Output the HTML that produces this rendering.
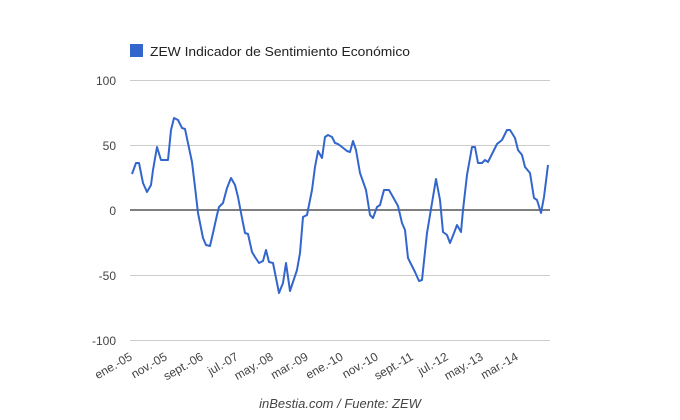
<!DOCTYPE html>
<html><head><meta charset="utf-8"><style>
body{margin:0;background:#fff;}
svg{display:block;font-family:"Liberation Sans",Arial,sans-serif;}
</style></head><body>
<svg width="680" height="420" viewBox="0 0 680 420">
<rect x="130" y="44" width="13" height="13" fill="#3366cc"/>
<text x="150" y="56" font-size="13" fill="#222" textLength="260" lengthAdjust="spacingAndGlyphs">ZEW Indicador de Sentimiento Económico</text>
<g stroke="#cccccc" stroke-width="1">
<line x1="130" y1="80.5" x2="550" y2="80.5"/>
<line x1="130" y1="145.5" x2="550" y2="145.5"/>
<line x1="130" y1="275.5" x2="550" y2="275.5"/>
<line x1="130" y1="340.5" x2="550" y2="340.5"/>
</g>
<line x1="130" y1="210" x2="550" y2="210" stroke="#333" stroke-width="1.3"/>
<g font-size="12" fill="#444" text-anchor="end">
<text x="116" y="85">100</text>
<text x="116" y="150">50</text>
<text x="116" y="215">0</text>
<text x="116" y="280">-50</text>
<text x="116" y="345">-100</text>
</g>
<polyline fill="none" stroke="#3366cc" stroke-width="2" stroke-linejoin="round" points="132,174 136,163 139,163 143,183 147,192 151,185 153,170 157,147 161,160 168,160 171,130 174,118 178,120 182,128 185,129 192,162 195,187 198,213 203,238 206,245 210,246 213,233 217,215 219,207 223,203 227,188 231,178 235,185 238,197 242,218 245,233 248,234 252,252 255,257 259,263 263,261 266,250 269,262 273,263 279,293 283,283 286,263 290,291 297,270 300,253 303,217 307,215 312,190 315,167 318,151 322,158 325,137 328,135 332,137 335,143 338,144 342,147 347,151 350,152 353,141 356,150 360,173 366,190 370,215 373,218 377,207 380,205 384,190 389,190 393,197 398,206 402,223 405,230 408,258 415,272 419,281 422,280 427,233 432,203 436,179 440,200 443,232 447,235 450,243 454,233 457,225 461,232 463,210 467,175 472,147 475,147 478,163 482,163 485,160 488,162 493,152 497,144 502,140 507,130 510,130 515,138 518,150 522,155 525,167 530,173 534,198 537,200 541,213 544,197 548,165"/>
<g font-size="12" fill="#444" text-anchor="end">
<text transform="translate(133,359) rotate(-30)">ene.-05</text>
<text transform="translate(168,359) rotate(-30)">nov.-05</text>
<text transform="translate(204,359) rotate(-30)">sept.-06</text>
<text transform="translate(239,359) rotate(-30)">jul.-07</text>
<text transform="translate(274,359) rotate(-30)">may.-08</text>
<text transform="translate(309,359) rotate(-30)">mar.-09</text>
<text transform="translate(344,359) rotate(-30)">ene.-10</text>
<text transform="translate(379,359) rotate(-30)">nov.-10</text>
<text transform="translate(414,359) rotate(-30)">sept.-11</text>
<text transform="translate(449,359) rotate(-30)">jul.-12</text>
<text transform="translate(484,359) rotate(-30)">may.-13</text>
<text transform="translate(519,359) rotate(-30)">mar.-14</text>
</g>
<text x="340" y="408" font-size="13" font-style="italic" fill="#444" text-anchor="middle">inBestia.com / Fuente: ZEW</text>
</svg>
</body></html>
